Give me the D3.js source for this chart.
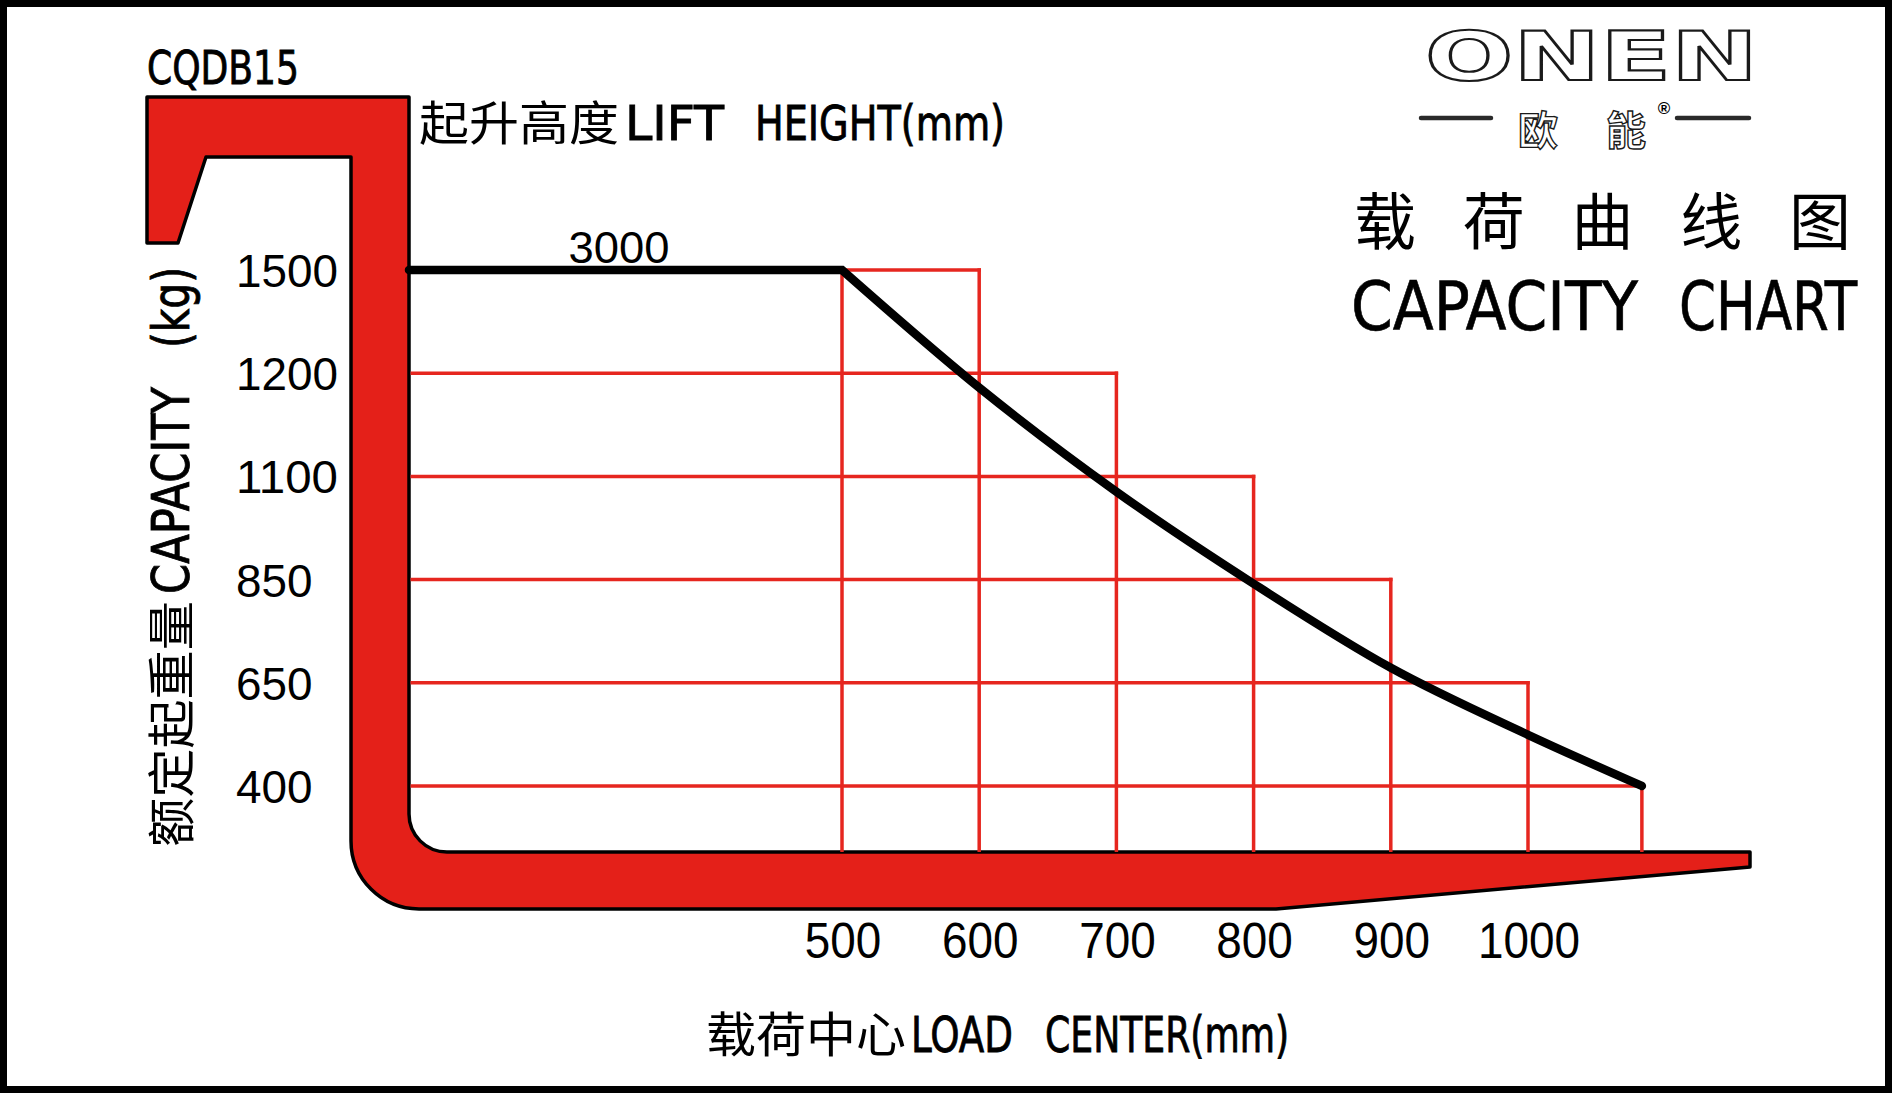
<!DOCTYPE html>
<html><head><meta charset="utf-8">
<script src="https://cdn.jsdelivr.net/npm/d3@7"></script>
<style>html,body{margin:0;padding:0;background:#fff;} svg{display:block;}</style>
</head><body>
<svg id="chart" width="1892" height="1093"></svg>
<script>
// ---------------- data ----------------
const modelName = "CQDB15";
const liftHeightLabel = "3000";
const loadCenterTicks = [500, 600, 700, 800, 900, 1000];
const capacityTicks = [1500, 1200, 1100, 850, 650, 400];
// staircase grid: each capacity line runs out to this load centre
const stepCapacity = [1500, 1200, 1100, 850, 650, 400];
const stepLoadCenter = [600, 700, 800, 900, 1000, 1083];
// vertical grid lines and the capacity at which each one starts
const vLineLoadCenter = [500, 600, 700, 800, 900, 1000, 1083];
const vLineTopCapacity = [1500, 1500, 1200, 1100, 850, 650, 400];
// load curve (load centre mm -> capacity kg)
const curveLoadCenter = [500, 600, 700, 800, 900, 1000, 1083];
const curveCapacity = [1500, 1186, 1063, 842, 679, 524, 400];

// text
const titleCN = ["载", "荷", "曲", "线", "图"];
const titleEN = ["CAPACITY", "CHART"];
const liftTitleCN = "起升高度";
const liftTitleEN = ["LIFT", "HEIGHT(mm)"];
const xTitleCN = "载荷中心";
const xTitleEN = ["LOAD", "CENTER(mm)"];
const yTitleCN = "额定起重量";
const yTitleEN = ["CAPACITY", "(kg)"];
const brand = "ONEN";
const brandCN = ["欧", "能"];

// ---------------- layout ----------------
const W = 1892, H = 1093;
const RED = "#e42019";
const GRID = "#e6261f";
const CJK = "'Noto Sans CJK SC', 'Noto Sans CJK JP', sans-serif";
const NARROW = "'Liberation Sans Narrow', 'DejaVu Sans Condensed', 'Liberation Sans', sans-serif";
const SANS = "'Liberation Sans', Arial, sans-serif";

const mastX = 409;      // right edge of the mast (acts as y axis)
const forkTop = 852;    // top edge of the fork tine (acts as x axis)

const svg = d3.select("#chart");
svg.append("rect").attr("width", W).attr("height", H).attr("fill", "#fff");

const x = d3.scaleLinear().domain([500, 1000]).range([842, 1528]);
const capSorted = capacityTicks.slice().sort((a, b) => a - b);
const y = d3.scaleLinear().domain(capSorted).range(capSorted.map((d, i) => 786 - i * 103.2));

// ---------------- fork shape ----------------
const fork = d3.path();
fork.moveTo(147, 97);
fork.lineTo(mastX, 97);
fork.lineTo(mastX, forkTop - 38);
fork.arcTo(mastX, forkTop, mastX + 38, forkTop, 38);
fork.lineTo(1750, forkTop);
fork.lineTo(1750, 867);
fork.lineTo(1276, 909);
fork.lineTo(351 + 68, 909);
fork.arcTo(351, 909, 351, 909 - 68, 68);
fork.lineTo(351, 157);
fork.lineTo(206, 157);
fork.lineTo(178, 243);
fork.lineTo(147, 243);
fork.closePath();
svg.append("path").attr("d", fork.toString())
  .attr("fill", RED).attr("stroke", "#000").attr("stroke-width", 3.5)
  .attr("stroke-linejoin", "round");

// ---------------- grid ----------------
const grid = svg.append("g").attr("stroke", GRID).attr("stroke-width", 3.5).attr("fill", "none");
grid.selectAll("line.h").data(d3.range(stepCapacity.length)).join("line")
  .attr("class", "h")
  .attr("x1", mastX + 1.5).attr("x2", i => x(stepLoadCenter[i]) + 1.75)
  .attr("y1", i => y(stepCapacity[i])).attr("y2", i => y(stepCapacity[i]));
grid.selectAll("line.v").data(d3.range(vLineLoadCenter.length)).join("line")
  .attr("class", "v")
  .attr("x1", i => x(vLineLoadCenter[i])).attr("x2", i => x(vLineLoadCenter[i]))
  .attr("y1", i => y(vLineTopCapacity[i]) - 1.75).attr("y2", forkTop);

// ---------------- load curve ----------------
const curvePts = curveLoadCenter.map((d, i) => [x(d), y(curveCapacity[i])]);
const lineGen = d3.line().curve(d3.curveMonotoneX);
const curvePath = lineGen(curvePts);
svg.append("path")
  .attr("d", "M" + mastX + "," + y(1500) + "L" + curvePath.slice(1))
  .attr("fill", "none").attr("stroke", "#000").attr("stroke-width", 8.5)
  .attr("stroke-linejoin", "miter").attr("stroke-linecap", "round");

// ---------------- text helper ----------------
function txt(parent, s, px, py, size, family, o = {}) {
  const t = parent.append("text").text(s)
    .attr("x", px).attr("y", py)
    .attr("font-size", size).attr("font-family", family)
    .attr("fill", o.fill || "#000");
  if (o.anchor) t.attr("text-anchor", o.anchor);
  if (o.len) t.attr("textLength", o.len).attr("lengthAdjust", "spacingAndGlyphs");
  if (o.weight) t.attr("font-weight", o.weight);
  if (o.stroke) t.attr("stroke", o.stroke).attr("stroke-width", o.sw || 1);
  return t;
}
const heavy = { stroke: "#000", sw: 0.8 };

// model name
txt(svg, modelName, 147, 84, 46, NARROW, { len: 152, ...heavy });
// lift height title
txt(svg, liftTitleCN, 419, 140, 47, CJK, { len: 200 });
txt(svg, liftTitleEN[0], 625, 140, 48, NARROW, { len: 99, ...heavy });
txt(svg, liftTitleEN[1], 755, 140, 48, NARROW, { len: 250, ...heavy });
// lift height value
txt(svg, liftHeightLabel, 619, 263, 45, SANS, { anchor: "middle", len: 101 });

// y tick labels
svg.append("g").selectAll("text").data(capacityTicks).join("text")
  .text(d => d)
  .attr("x", 236).attr("y", d => y(d) + 17)
  .attr("font-size", 46).attr("font-family", SANS)
  .attr("textLength", d => String(d).length * 25.5).attr("lengthAdjust", "spacingAndGlyphs");

// x tick labels
svg.append("g").selectAll("text").data(loadCenterTicks).join("text")
  .text(d => d)
  .attr("x", d => x(d) + 1).attr("y", 958)
  .attr("text-anchor", "middle")
  .attr("font-size", 50).attr("font-family", SANS)
  .attr("textLength", d => String(d).length * 25.5).attr("lengthAdjust", "spacingAndGlyphs");

// x title
txt(svg, xTitleCN, 706, 1052, 48, CJK, { len: 200 });
txt(svg, xTitleEN[0], 911, 1052, 50, NARROW, { len: 102, ...heavy });
txt(svg, xTitleEN[1], 1045, 1052, 50, NARROW, { len: 244, ...heavy });

// y title (rotated)
const yt = svg.append("g").attr("transform", "translate(189,847) rotate(-90)");
txt(yt, yTitleCN, 0, 0, 48, CJK, { len: 246 });
txt(yt, yTitleEN[0], 253, 0, 51, NARROW, { len: 207, ...heavy });
txt(yt, yTitleEN[1], 499, 0, 51, NARROW, { len: 81, ...heavy });

// chart title
const tx = d3.scalePoint().domain(titleCN).range([1385, 1820]);
svg.append("g").selectAll("text").data(titleCN).join("text")
  .text(d => d)
  .attr("x", d => tx(d)).attr("y", 245)
  .attr("text-anchor", "middle")
  .attr("font-size", 62).attr("font-family", CJK);
txt(svg, titleEN[0], 1351, 330, 68, NARROW, { len: 287, stroke: "#000", sw: 0.6 });
txt(svg, titleEN[1], 1679, 330, 68, NARROW, { len: 178, stroke: "#000", sw: 0.6 });

// brand logo
txt(svg, brand, 1425, 80, 68, "'DejaVu Sans', sans-serif",
  { len: 333, weight: "bold", fill: "#fff", stroke: "#1a1a1a", sw: 2.2 });
const logoLines = svg.append("g").attr("stroke", "#2a2a2a").attr("stroke-width", 4.5).attr("stroke-linecap", "round");
logoLines.append("line").attr("x1", 1421).attr("x2", 1491).attr("y1", 118).attr("y2", 118);
logoLines.append("line").attr("x1", 1677).attr("x2", 1749).attr("y1", 118).attr("y2", 118);
txt(svg, brandCN[0], 1538, 145, 40, CJK, { anchor: "middle", weight: "bold", fill: "#fff", stroke: "#1a1a1a", sw: 1.4 });
txt(svg, brandCN[1], 1626, 145, 40, CJK, { anchor: "middle", weight: "bold", fill: "#fff", stroke: "#1a1a1a", sw: 1.4 });
txt(svg, "®", 1664, 114, 17, SANS, { anchor: "middle", weight: "bold" });

// frame
svg.append("rect").attr("x", 3.5).attr("y", 3.5).attr("width", W - 7).attr("height", H - 7)
  .attr("fill", "none").attr("stroke", "#000").attr("stroke-width", 7);
</script>
</body></html>
